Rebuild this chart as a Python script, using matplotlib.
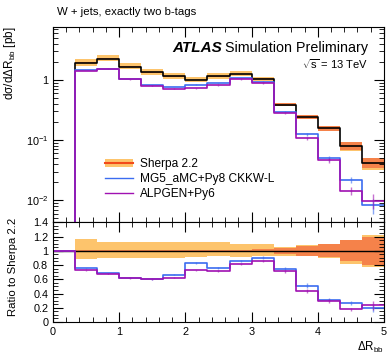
import numpy as np
import matplotlib
matplotlib.use("Agg")
from matplotlib import pyplot as plt
from matplotlib.patches import Patch
from matplotlib.lines import Line2D
from matplotlib.ticker import MultipleLocator, FixedLocator, LogLocator, NullFormatter

plt.rcParams['font.family'] = ['Liberation Sans', 'DejaVu Sans']
plt.rcParams['mathtext.fontset'] = 'custom'
plt.rcParams['mathtext.rm'] = 'Liberation Sans'
plt.rcParams['mathtext.it'] = 'Liberation Sans:italic'

# 15 bins of width 1/3 in dR_bb
edges = np.linspace(0, 5, 16)

# Sherpa 2.2 prediction [pb]
sherpa = [0.0, 1.95, 2.26, 1.67, 1.34, 1.15, 1.00, 1.15, 1.26, 1.04,
          0.39, 0.245, 0.158, 0.081, 0.042]
# Sherpa uncertainty bands (relative, up/down): total (light) and stat (dark)
sherpa_tot_up = [0.0, 0.16, 0.13, 0.13, 0.13, 0.13, 0.13, 0.12, 0.10, 0.09,
                 0.06, 0.086, 0.10, 0.15, 0.22]
sherpa_tot_dn = [0.0, 0.11, 0.10, 0.105, 0.105, 0.10, 0.09, 0.08, 0.09, 0.08,
                 0.07, 0.08, 0.10, 0.19, 0.23]
sherpa_stat = [0.0, 0.01, 0.01, 0.01, 0.01, 0.01, 0.015, 0.015, 0.015, 0.02,
               0.045, 0.07, 0.09, 0.15, 0.195]

# ratios to Sherpa 2.2
mg5_ratio = [1.0, 0.757, 0.686, 0.624, 0.605, 0.667, 0.829, 0.762, 0.852, 0.905,
             0.748, 0.51, 0.314, 0.267, 0.195]
alpgen_ratio = [1.0, 0.724, 0.676, 0.614, 0.60, 0.624, 0.724, 0.714, 0.819, 0.857,
                0.714, 0.438, 0.295, 0.176, 0.233]
# relative stat errors of the MC samples
mg5_err = [0.0, 0.01, 0.01, 0.015, 0.015, 0.015, 0.015, 0.015, 0.015, 0.02,
           0.03, 0.07, 0.08, 0.12, 0.28]
alpgen_err = [0.0, 0.01, 0.01, 0.01, 0.015, 0.015, 0.015, 0.015, 0.015, 0.02,
              0.03, 0.07, 0.09, 0.15, 0.28]

sherpa = np.array(sherpa)
mg5 = sherpa * np.array(mg5_ratio)
alpgen = sherpa * np.array(alpgen_ratio)

c_light = "#fdc46c"
c_dark = "#f5824a"
c_blue = "#3b6cf0"
c_purple = "#a011b2"


def step(ax, vals, **kw):
    v = np.append(vals, vals[-1])
    ax.step(edges, v, where="post", **kw)


def band(ax, lo, hi, color):
    ax.fill_between(edges, np.append(lo, lo[-1]), np.append(hi, hi[-1]),
                    step="post", color=color, lw=0)


fig = plt.figure(figsize=(3.88, 3.54), dpi=100)
ax = fig.add_axes([0.1366, 0.372, 0.853, 0.552])
rax = fig.add_axes([0.1366, 0.0904, 0.853, 0.2816])

centers = 0.5 * (edges[1:] + edges[:-1])
floor = 1e-5

# main panel
band(ax, sherpa * (1 - np.array(sherpa_tot_dn)), sherpa * (1 + np.array(sherpa_tot_up)), c_light)
band(ax, sherpa * (1 - np.array(sherpa_stat)), sherpa * (1 + np.array(sherpa_stat)), c_dark)
step(ax, np.maximum(sherpa, floor), color="black", lw=1.2)
step(ax, np.maximum(mg5, floor), color=c_blue, lw=1.2)
ax.errorbar(centers[1:], mg5[1:], yerr=mg5[1:] * np.array(mg5_err[1:]), fmt="none",
            ecolor=c_blue, alpha=0.6, lw=1)
step(ax, np.maximum(alpgen, floor), color=c_purple, lw=1.2)
ax.errorbar(centers[1:], alpgen[1:], yerr=alpgen[1:] * np.array(alpgen_err[1:]), fmt="none",
            ecolor=c_purple, alpha=0.6, lw=1)

ax.set_yscale("log")
ax.set_xlim(0, 5)
ax.set_ylim(0.0043, 7.63)
ax.yaxis.set_major_locator(FixedLocator([0.01, 0.1, 1]))
ax.set_yticklabels(["$10^{-2}$", "$10^{-1}$", "1"])
ax.yaxis.set_minor_locator(LogLocator(base=10, subs=np.arange(2, 10), numticks=20))
ax.yaxis.set_minor_formatter(NullFormatter())
ax.xaxis.set_major_locator(MultipleLocator(1))
ax.xaxis.set_minor_locator(MultipleLocator(0.2))
ax.tick_params(labelbottom=False)
ax.set_ylabel("dσ/dΔR$_{\\rm bb}$ [pb]", loc="top", fontsize=8.5)
ax.yaxis.set_label_coords(-0.107, 1.0)

# ratio panel
ones = np.ones(len(sherpa))
band(rax, ones - np.array(sherpa_tot_dn), ones + np.array(sherpa_tot_up), c_light)
band(rax, ones - np.array(sherpa_stat), ones + np.array(sherpa_stat), c_dark)
rax.axhline(1, color="black", lw=1)
step(rax, np.array(mg5_ratio), color=c_blue, lw=1.2)
rax.errorbar(centers[1:], mg5_ratio[1:], yerr=np.array(mg5_ratio[1:]) * np.array(mg5_err[1:]),
             fmt="none", ecolor=c_blue, alpha=0.6, lw=1)
step(rax, np.array(alpgen_ratio), color=c_purple, lw=1.2)
rax.errorbar(centers[1:], alpgen_ratio[1:], yerr=np.array(alpgen_ratio[1:]) * np.array(alpgen_err[1:]),
             fmt="none", ecolor=c_purple, alpha=0.6, lw=1)
rax.set_xlim(0, 5)
rax.set_ylim(0, 1.4)
rax.set_yticks([0, 0.2, 0.4, 0.6, 0.8, 1.0, 1.2, 1.4])
rax.set_yticklabels(["0", "0.2", "0.4", "0.6", "0.8", "1", "1.2", "1.4"])
rax.yaxis.set_minor_locator(MultipleLocator(0.05))
rax.set_xticks([0, 1, 2, 3, 4, 5])
rax.set_xticklabels(["0", "1", "2", "3", "4", "5"])
rax.xaxis.set_minor_locator(MultipleLocator(0.2))
rax.set_ylabel("Ratio to Sherpa 2.2", fontsize=8.2)
rax.yaxis.set_label_coords(-0.107, 0.55)
rax.set_xlabel("ΔR$_{\\rm bb}$", loc="right", fontsize=8.3, labelpad=2)

for a in (ax, rax):
    a.tick_params(which="both", direction="in", top=True, right=True, labelsize=7.8)
    a.tick_params(which="major", length=7, width=0.8)
    a.tick_params(which="minor", length=3.5, width=0.6)
    for s in a.spines.values():
        s.set_linewidth(0.8)

# legend
h_sherpa = (Patch(facecolor=c_light, edgecolor="none"), Line2D([], [], color="#f24a1a", lw=1.5))
h_mg5 = Line2D([], [], color=c_blue, lw=1)
h_alp = Line2D([], [], color=c_purple, lw=1)
ax.legend([h_sherpa, h_mg5, h_alp], ["Sherpa 2.2", "MG5_aMC+Py8 CKKW-L", "ALPGEN+Py6"],
          loc="upper left", bbox_to_anchor=(0.14, 0.36), frameon=False, fontsize=8.6,
          handlelength=2.3, labelspacing=0.25, borderpad=0, handletextpad=0.6)

# labels
t1 = ax.text(0.952, 0.892, "Simulation Preliminary", transform=ax.transAxes,
             ha="right", va="center", fontsize=10.3)
fig.canvas.draw()
bb = t1.get_window_extent().transformed(ax.transAxes.inverted())
ax.text(bb.x0 - 0.01, 0.892, "ATLAS", transform=ax.transAxes, ha="right", va="center",
        fontsize=11, fontweight="bold", fontstyle="italic")
ax.text(0.952, 0.81, "$\\sqrt{\\rm s}$ = 13 TeV", transform=ax.transAxes, ha="right",
        va="center", fontsize=8)
fig.text(0.147, 0.966, "W + jets, exactly two b-tags", ha="left", va="center", fontsize=8.2)

fig.savefig("out.png", dpi=100)
